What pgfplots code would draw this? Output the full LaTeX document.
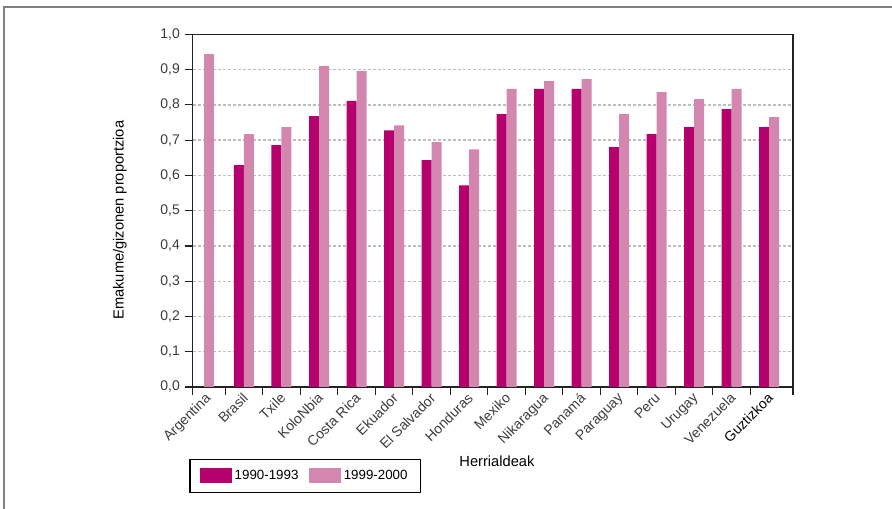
\documentclass[border=0pt]{standalone}
\usepackage{pgfplots}
\pgfplotsset{compat=1.18}
\usepackage{fontspec}
\setmainfont{Liberation Sans}
\definecolor{dark}{RGB}{181,0,110}
\definecolor{light}{RGB}{212,135,174}
\definecolor{txt}{RGB}{60,60,60}
\definecolor{gridc}{RGB}{190,190,190}
\definecolor{axc}{RGB}{34,34,34}

\begin{document}
\begin{tikzpicture}
\useasboundingbox (0,0) rectangle (669pt,381.75pt);
\draw[gray, line width=1.1pt] (3pt,0) -- (3pt,376.5pt) -- (669pt,376.5pt);
\begin{axis}[
  at={(144.375pt,91.5pt)}, anchor=south west,
  scale only axis, width=450.4pt, height=264.5pt,
  xmin=-0.373, xmax=15.64, ymin=0, ymax=1,
  ybar, bar width=7.5pt,
  axis line style={draw=axc, line width=1pt},
  xtick={0,1,...,15},
  xticklabels={Argentina,Brasil,Txile,KoloNbia,Costa Rica,Ekuador,El Salvador,Honduras,Mexiko,Nikaragua,Panamá,Paraguay,Peru,Urugay,Venezuela,\textcolor{black}{Guztizkoa}},
  minor xtick={-0.373,0.5,1.5,2.5,3.5,4.5,5.5,6.5,7.5,8.5,9.5,10.5,11.5,12.5,13.5,14.5,15.64},
  major x tick style={draw=none},
  minor tick length=6pt,
  xticklabel style={rotate=45, anchor=north east, inner sep=1pt, text=txt, xshift=1.5pt, yshift=4pt, font=\fontsize{10.5}{12}\selectfont},
  xtick pos=bottom, ytick pos=left,
  tick align=outside,
  major tick length=6pt,
  tick style={draw=axc, line width=0.9pt},
  ytick={0,0.1,...,1.0},
  yticklabel style={text=txt, font=\fontsize{10.5}{12}\selectfont},
  /pgf/number format/.cd, fixed, fixed zerofill, precision=1, use comma, assume math mode=true,
  /pgfplots/.cd,
  ymajorgrids,
  grid style={draw=gridc, line width=1pt, dash pattern=on 2.25pt off 1.5pt},
  ylabel={Emakume/gizonen proportzioa},
  ylabel style={at={(axis description cs:-0.121,0.473)}, anchor=center, text=black, font=\fontsize{11}{13}\selectfont},
  xlabel={Herrialdeak},
  xlabel style={at={(axis description cs:0.507,-0.21)}, anchor=center, text=black, font=\fontsize{11}{13}\selectfont},
  legend columns=2,
  legend style={at={(axis description cs:-0.005,-0.204)}, anchor=north west, draw=black, line width=0.8pt, inner xsep=7.5pt, inner ysep=6pt,
    /tikz/every even column/.append style={column sep=6pt}},
  legend image code/.code={\fill[#1,draw=none] (0pt,-5.6pt) rectangle (24pt,5.6pt);},
]
\addplot[fill=dark, draw=none, bar shift=-3.75pt] coordinates {
 (1,0.629) (2,0.686) (3,0.768) (4,0.811) (5,0.728) (6,0.643) (7,0.572) (8,0.774)
 (9,0.845) (10,0.845) (11,0.680) (12,0.717) (13,0.737) (14,0.788) (15,0.737)};
\addlegendentry{1990-1993}
\addplot[fill=light, draw=none, bar shift=3.75pt] coordinates {
 (1,0.717) (2,0.737) (3,0.910) (4,0.896) (5,0.742) (6,0.694) (7,0.674) (8,0.845)
 (9,0.867) (10,0.873) (11,0.774) (12,0.836) (13,0.816) (14,0.845) (15,0.765)};
\addlegendentry{1999-2000}
\addplot[fill=light, draw=none, bar shift=1.9pt, forget plot] coordinates {(0,0.944)};
\end{axis}
\end{tikzpicture}
\end{document}
